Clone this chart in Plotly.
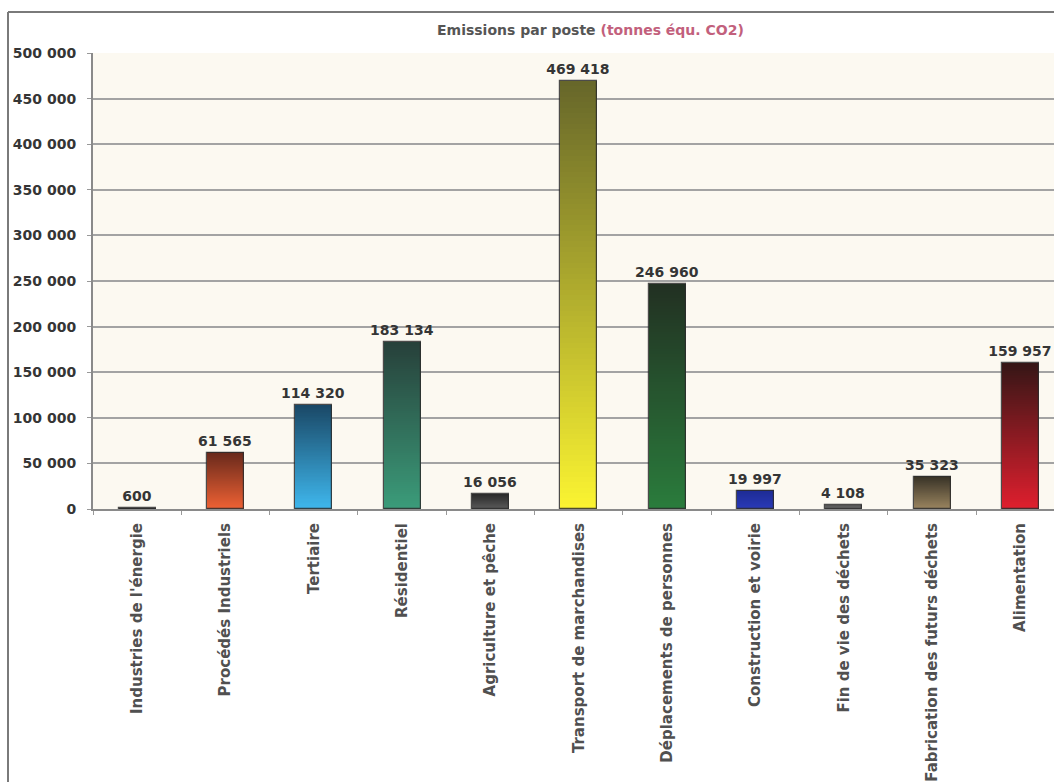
import plotly.graph_objects as go

# Emissions by sector (tonnes CO2 equivalent)
categories = [
    "Industries de l'énergie",
    "Procédés Industriels",
    "Tertiaire",
    "Résidentiel",
    "Agriculture et pêche",
    "Transport de marchandises",
    "Déplacements de personnes",
    "Construction et voirie",
    "Fin de vie des déchets",
    "Fabrication des futurs déchets",
    "Alimentation",
]
values = [600, 61565, 114320, 183134, 16056, 469418, 246960, 19997, 4108, 35323, 159957]

# Vertical gradient of each bar: colour at the top and at the bottom
top_colors = [
    "#2e2e2e", "#6a2a1c", "#1a4866", "#27403a", "#2c2c2c", "#66662a",
    "#223022", "#1e2c96", "#555555", "#3a3428", "#361616",
]
bottom_colors = [
    "#484848", "#f06234", "#3fb8ee", "#3b9c7a", "#5c5c5c", "#fbf431",
    "#2a7c3c", "#2a3ab8", "#7a7a7a", "#9c8660", "#e01f2e",
]

y_ticks = list(range(0, 500001, 50000))
y_ticktext = [f"{v:,}".replace(",", " ") for v in y_ticks]

FONT = "DejaVu Sans, Arial, sans-serif"
W, H = 1054, 782
M_L, M_R, M_T, M_B = 93, 0, 53, 273
BAR_W = 0.42
STEPS = 80


def hex_rgb(h):
    h = h.lstrip("#")
    return tuple(int(h[i:i + 2], 16) for i in (0, 2, 4))


def mix(c0, c1, t):
    a, b = hex_rgb(c0), hex_rgb(c1)
    r = [round(a[j] + (b[j] - a[j]) * t) for j in range(3)]
    return f"rgb({r[0]},{r[1]},{r[2]})"


# Gradient fill: each bar is split into thin slices, coloured bottom -> top
seg_x, seg_y, seg_base, seg_col = [], [], [], []
for cat, v, ct, cb in zip(categories, values, top_colors, bottom_colors):
    for k in range(STEPS):
        seg_x.append(cat)
        seg_y.append(v / STEPS)
        seg_base.append(v * k / STEPS)
        seg_col.append(mix(cb, ct, (k + 0.5) / STEPS))

fig = go.Figure()
fig.add_trace(go.Bar(
    x=seg_x, y=seg_y, base=seg_base, width=BAR_W,
    marker=dict(color=seg_col, line=dict(width=0)),
    hoverinfo="skip", showlegend=False,
))

# Bar outlines and value labels
labels = [f"{v:,}".replace(",", " ") for v in values]
fig.add_trace(go.Bar(
    x=categories, y=values, width=BAR_W,
    marker=dict(color="rgba(0,0,0,0)", line=dict(color="rgba(45,45,45,0.85)", width=1.2)),
    text=labels, textposition="outside", cliponaxis=False,
    constraintext="none",
    textfont=dict(family=FONT, size=14, color="#353535", weight=700),
    showlegend=False,
))

plot_w = W - M_L - M_R
plot_h = H - M_T - M_B


def px_x(p):
    return (p - M_L) / plot_w


def px_y(p):
    return 1 - (p - M_T) / plot_h


# Outer frame of the chart area (top and left edges)
frame = dict(color="#7a7a7a", width=2)
fig.add_shape(type="line", xref="paper", yref="paper",
              x0=px_x(8), x1=px_x(W + 5), y0=px_y(12), y1=px_y(12), line=frame)
fig.add_shape(type="line", xref="paper", yref="paper",
              x0=px_x(8), x1=px_x(8), y0=px_y(12), y1=px_y(H + 5), line=frame)

# Title in two colours
fig.add_annotation(
    xref="paper", yref="paper", x=px_x(590), y=px_y(30),
    xanchor="center", yanchor="middle", showarrow=False,
    text="Emissions par poste <span style='color:#c2607c'>(tonnes équ. CO2)</span>",
    font=dict(family=FONT, size=14, color="#555555", weight=700),
)

fig.update_layout(
    width=W, height=H,
    margin=dict(l=M_L, r=M_R, t=M_T, b=M_B, pad=0),
    paper_bgcolor="white",
    plot_bgcolor="#fcf9f1",
    barmode="overlay",
    bargap=0,
    font=dict(family=FONT, size=14, color="#353535", weight=700),
    xaxis=dict(
        type="category",
        categoryorder="array", categoryarray=categories,
        range=[-0.5, 10.38],
        tickangle=-90,
        tickson="boundaries", ticks="outside", ticklen=4, tickcolor="#999999",
        showline=True, linecolor="#8a8a8a", linewidth=2,
        showgrid=False,
        tickfont=dict(family=FONT, size=15, color="#505050", weight=700),
        ticklabelstandoff=6,
    ),
    yaxis=dict(
        range=[0, 500000],
        tickvals=y_ticks, ticktext=y_ticktext,
        ticks="outside", ticklen=4, tickcolor="#999999",
        showline=True, linecolor="#8a8a8a", linewidth=2,
        showgrid=True, gridcolor="#a3a3a3", gridwidth=1.5,
        zeroline=False,
        tickfont=dict(family=FONT, size=14, color="#353535", weight=700),
        ticklabelstandoff=8,
    ),
)

fig.write_html("out.html")
